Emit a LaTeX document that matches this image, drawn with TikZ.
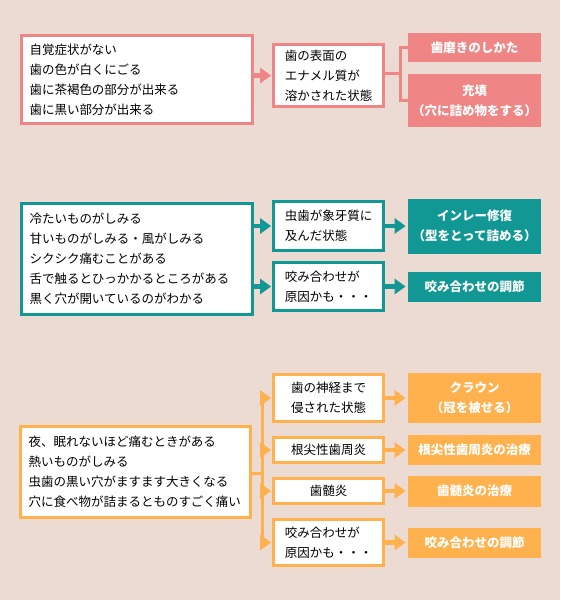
\documentclass[tikz,border=0pt]{standalone}
\usepackage{fontspec}
\setmainfont{Noto Sans CJK JP}
\usetikzlibrary{arrows.meta}
\usetikzlibrary{positioning}
\definecolor{bgbeige}{RGB}{235,219,211}
\definecolor{pinkc}{RGB}{239,133,133}
\definecolor{tealc}{RGB}{17,152,148}
\definecolor{orangec}{RGB}{255,177,77}

\begin{document}
\begin{tikzpicture}[x=1pt,y=-1pt,
			every node/.style={outer sep=0pt,font=\fontsize{12.5}{20}\selectfont}]
			\tikzstyle{symbox}=[draw,line width=3pt,fill=white,text=black,align=left,text width=215pt,inner xsep=8pt,inner ysep=0pt]
			\tikzstyle{stagebox}=[draw,line width=3pt,fill=white,text=black,align=left,minimum width=110pt,inner sep=0pt]
			\tikzstyle{curebox}=[fill,text=white,align=center,minimum width=133pt,inner sep=0pt,
			font=\fontsize{12.5}{20}\selectfont\bfseries]
			\tikzstyle{flow}=[line width=4.5pt,shorten >=2.5pt,-{Triangle[length=11pt,width=16pt,line width=0pt]}]
			\tikzstyle{branch}=[line width=3pt]
			
			\fill[bgbeige] (0,0) rectangle (560,600);
			\useasboundingbox (0,0) rectangle (560,600);
			
			% enamel
			\begin{scope}[color=pinkc]
			\node[symbox,minimum height=88pt]   (E_0) at (137,79.5)  {自覚症状がない\\歯の色が白くにごる\\歯に茶褐色の部分が出来る\\歯に黒い部分が出来る};
			\node[stagebox,minimum height=62pt] (E_1) at (328.5,75.5) {歯の表面の\\エナメル質が\\溶かされた状態};
			\node[curebox,minimum height=29pt]  (E_2) at (474.5,47.5) {歯磨きのしかた};
			\node[curebox,minimum height=53pt]  (E_3) at (474.5,100.5) {充填\\（穴に詰め物をする）};
			\coordinate (E_f) at (400,73);
			
			\draw[flow]   (E_0.east |- E_1) -- (E_1.west);
			\draw[branch] (E_1.east |- E_f) -- (E_f);
			\draw[branch] (E_2.west) -| (E_f) |- (E_3.west);
			\end{scope}
			
			% dentin
			\begin{scope}[color=tealc]
			\node[symbox,minimum height=111pt]  (D_0) at (137,259) {冷たいものがしみる\\甘いものがしみる・風がしみる\\シクシク痛むことがある\\舌で触るとひっかかるところがある\\黒く穴が開いているのがわかる};
			\node[stagebox,minimum height=49pt] (D_1) at (328.5,226) {虫歯が象牙質に\\及んだ状態};
			\node[stagebox,minimum height=48pt] (D_2) at (328.5,286.5) {咬み合わせが\\原因かも・・・};
			\node[curebox,minimum height=55pt]  (D_3) [right=24.5pt of D_1] {インレー修復\\（型をとって詰める）};
			\node[curebox,minimum height=30pt]  (D_4) [right=24.5pt of D_2] {咬み合わせの調節};
			
			\draw[flow] (D_0.east |- D_1) -- (D_1.west);
			\draw[flow] (D_0.east |- D_2) -- (D_2.west);
			\draw[flow] (D_1.east) -- (D_3.west);
			\draw[flow] (D_2.east) -- (D_4.west);
			\end{scope}
			
			% nerve
			\begin{scope}[color=orangec]
			\node[symbox,text width=214pt,minimum height=91pt] (N_0) at (135.5,472) {夜、眠れないほど痛むときがある\\熱いものがしみる\\虫歯の黒い穴がますます大きくなる\\穴に食べ物が詰まるとものすごく痛い};
			\node[stagebox,minimum height=46.5pt] (N_1) at (328.5,398) {歯の神経まで\\侵された状態};
			\node[stagebox,minimum height=25pt]   (N_2) at (328.5,450) {根尖性歯周炎};
			\node[stagebox,minimum height=25.5pt] (N_3) at (328.5,491) {歯髄炎};
			\node[stagebox,minimum height=46pt]   (N_4) at (328.5,542.5) {咬み合わせが\\原因かも・・・};
			\node[curebox,minimum height=50pt]    (N_5) [right=24.5pt of N_1] {クラウン\\（冠を被せる）};
			\node[curebox,minimum height=30pt]    (N_6) [right=24.5pt of N_2] {根尖性歯周炎の治療};
			\node[curebox,minimum height=31pt]    (N_7) [right=24.5pt of N_3] {歯髄炎の治療};
			\node[curebox,minimum height=30pt]    (N_8) [right=24.5pt of N_4] {咬み合わせの調節};
			\coordinate (N_t) at (262,473);
			
			\draw[branch] (N_0.east |- N_t) -- (N_t);
			\draw[branch] (N_t |- N_1) -- (N_t |- N_4);
			\draw[flow] (N_t |- N_1) -- (N_1.west);
			\draw[flow] (N_t |- N_2) -- (N_2.west);
			\draw[flow] (N_t |- N_3) -- (N_3.west);
			\draw[flow] (N_t |- N_4) -- (N_4.west);
			\draw[flow] (N_1.east) -- (N_5.west);
			\draw[flow] (N_2.east) -- (N_6.west);
			\draw[flow] (N_3.east) -- (N_7.west);
			\draw[flow] (N_4.east) -- (N_8.west);
			\end{scope}
			\end{tikzpicture}
\end{document}
